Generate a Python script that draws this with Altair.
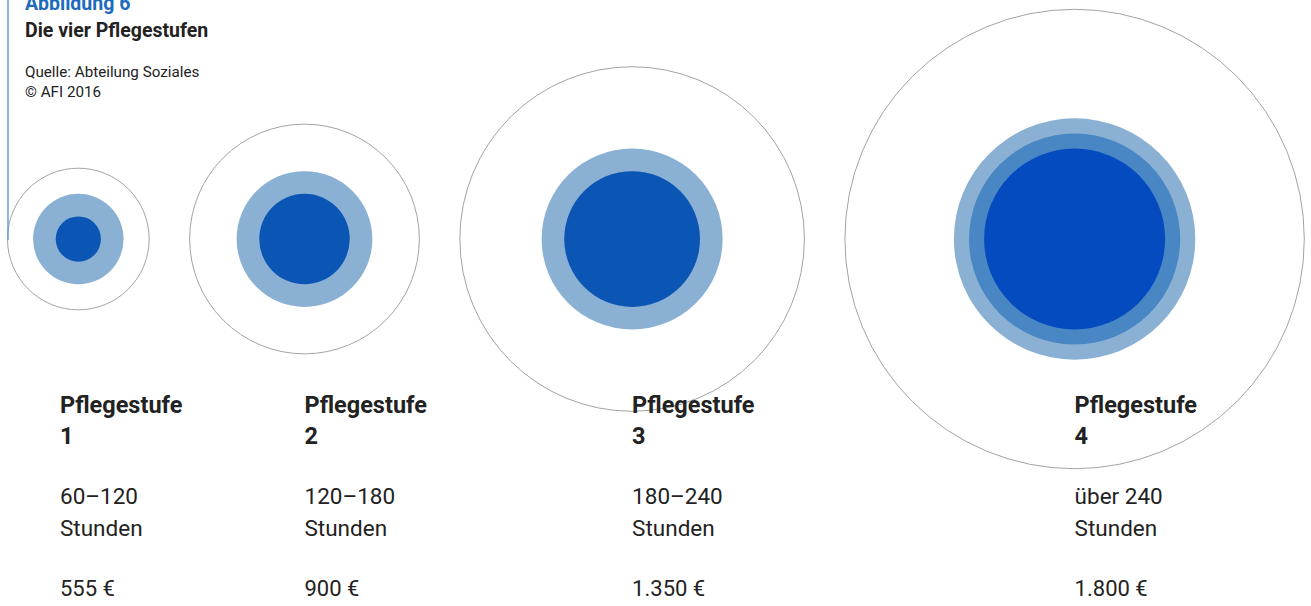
import altair as alt
import pandas as pd

# ---------------- data ----------------
levels = ["1", "2", "3", "4"]
euro = [555, 900, 1350, 1800]                      # monthly amount (outer thin ring)
hours_text = ["60–120", "120–180", "180–240", "über 240"]
# filled rings per level: hours value and ring type
ring_level = ["1", "1", "2", "2", "3", "3", "4", "4", "4"]
ring_hours = [120, 60, 180, 120, 240, 180, 320, 280, 240]
ring_type = ["hell", "dunkel", "hell", "dunkel", "hell", "dunkel", "hell", "mittel", "kräftig"]

title_kicker = "Abbildung 6"
title_main = "Die vier Pflegestufen"
source_lines = ["Quelle: Abteilung Soziales", "© AFI 2016"]

# ---------------- layout ----------------
W, H = 1311, 606
OUTER_MAX_PX = 229.7          # radius of the largest outer ring
INNER_MAX_PX = 90.5           # radius for 240 hours
LEFT = 7.5
GAP = 40.5
CY = 239
FONT = "Roboto"
TXT = "#222222"

px_per_euro = OUTER_MAX_PX / max(euro)
centers = []
edge = LEFT
for e in euro:
    r = e * px_per_euro
    centers.append(edge + r)
    edge = edge + 2 * r + GAP
label_x = [60] + centers[1:]

def fmt_euro(v):
    return f"{v:,}".replace(",", ".") + " €"

outer_df = pd.DataFrame({"level": levels, "euro": euro, "cx": centers})
ring_df = pd.DataFrame({"level": ring_level, "hours": ring_hours, "ring": ring_type})
ring_df["cx"] = ring_df["level"].map(dict(zip(levels, centers)))
lab_df = pd.DataFrame({
    "lx": label_x,
    "head": [["Pflegestufe", l] for l in levels],
    "hrs": [[h, "Stunden"] for h in hours_text],
    "eur": [fmt_euro(e) for e in euro],
})

xscale = alt.Scale(domain=[0, W], range=[0, W], nice=False, zero=False)
X = alt.X("cx:Q", scale=xscale, axis=None, stack=None)

outer = alt.Chart(outer_df).mark_arc(
    theta=0, theta2=6.2832, fillOpacity=0, stroke="#a3a3a3", strokeWidth=1
).encode(
    x=X, y=alt.value(CY),
    radius=alt.Radius("euro:Q", stack=None,
                      scale=alt.Scale(type="linear", domain=[0, max(euro)],
                                      range=[0, OUTER_MAX_PX], zero=True)),
)

rings = alt.Chart(ring_df).mark_arc(theta=0, theta2=6.2832).encode(
    x=X, y=alt.value(CY),
    radius=alt.Radius("hours:Q", stack=None,
                      scale=alt.Scale(type="linear", domain=[0, 240],
                                      range=[0, INNER_MAX_PX], zero=True)),
    color=alt.Color("ring:N", legend=None,
                    scale=alt.Scale(domain=["hell", "dunkel", "mittel", "kräftig"],
                                    range=["#8AB0D4", "#0B56B4", "#4886C4", "#054BC0"])),
    order=alt.Order("hours:Q", sort="descending"),
)

LX = alt.X("lx:Q", scale=xscale, axis=None, stack=None)
head = alt.Chart(lab_df).mark_text(
    align="left", baseline="alphabetic", font=FONT, fontSize=23.5, fontWeight="bold",
    color=TXT, lineHeight=31
).encode(x=LX, y=alt.value(413), text="head")
hrs = alt.Chart(lab_df).mark_text(
    align="left", baseline="alphabetic", font=FONT, fontSize=22.5, color=TXT, lineHeight=32
).encode(x=LX, y=alt.value(504), text="hrs")
eur = alt.Chart(lab_df).mark_text(
    align="left", baseline="alphabetic", font=FONT, fontSize=22, color=TXT
).encode(x=LX, y=alt.value(596), text="eur")

vline = alt.Chart(pd.DataFrame({"a": [0]})).mark_rule(color="#6a9ed0", strokeWidth=1.5).encode(
    x=alt.value(8), y=alt.value(0), y2=alt.value(240))

kicker = alt.Chart(pd.DataFrame({"t": [title_kicker]})).mark_text(
    align="left", baseline="alphabetic", font=FONT, fontSize=19.5, fontWeight="bold", color="#1c6bbd"
).encode(x=alt.value(25), y=alt.value(10), text="t")
main = alt.Chart(pd.DataFrame({"t": [title_main]})).mark_text(
    align="left", baseline="alphabetic", font=FONT, fontSize=19.5, fontWeight="bold", color=TXT
).encode(x=alt.value(25), y=alt.value(37), text="t")
src = alt.Chart(pd.DataFrame({"t": [source_lines]})).mark_text(
    align="left", baseline="alphabetic", font=FONT, fontSize=15.2, color=TXT, lineHeight=20
).encode(x=alt.value(25), y=alt.value(77), text="t")

chart = alt.layer(outer, rings, head, hrs, eur, vline, kicker, main, src).resolve_scale(
    radius="independent"
).properties(
    width=W, height=H, padding=0, autosize=alt.AutoSizeParams(type="none")
).configure_view(stroke=None)

chart.save("out.html", embed_options={"renderer": "svg", "actions": False})
